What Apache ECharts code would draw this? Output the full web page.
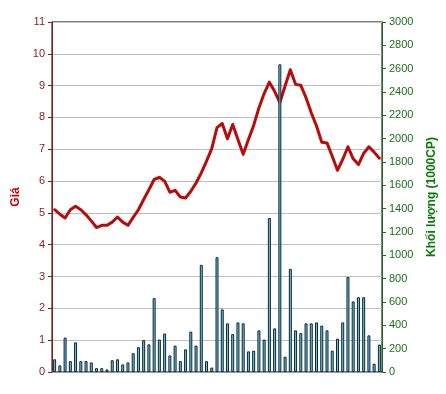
<!DOCTYPE html>
<html>
<head>
<meta charset="utf-8">
<script src="https://cdn.jsdelivr.net/npm/echarts@6/dist/echarts.min.js"></script>
<style>
html,body{margin:0;padding:0;background:#fff;}
#chart{width:446px;height:394px;}
</style>
</head>
<body>
<div id="chart"></div>
<script>
// Session index (63 trading sessions)
var categories = ["1","2","3","4","5","6","7","8","9","10","11","12","13","14","15","16","17","18","19","20","21","22","23","24","25","26","27","28","29","30","31","32","33","34","35","36","37","38","39","40","41","42","43","44","45","46","47","48","49","50","51","52","53","54","55","56","57","58","59","60","61","62","63"];

// Giá (price)
var price = [5.10,4.96,4.84,5.10,5.21,5.10,4.94,4.75,4.54,4.61,4.61,4.71,4.87,4.71,4.61,4.86,5.10,5.42,5.73,6.05,6.12,6.00,5.65,5.71,5.50,5.47,5.68,5.94,6.26,6.63,7.02,7.68,7.81,7.33,7.78,7.31,6.84,7.31,7.75,8.30,8.75,9.11,8.82,8.47,8.99,9.50,9.04,9.01,8.62,8.15,7.73,7.22,7.20,6.78,6.34,6.68,7.08,6.70,6.52,6.87,7.08,6.91,6.72];

// Khối lượng (1000CP)
var volume = [109,57,295,93,254,93,93,82,33,33,22,101,109,65,82,161,213,273,237,633,278,330,142,226,93,194,346,226,919,93,38,984,537,417,325,425,417,177,183,357,278,1320,374,2637,131,884,357,333,417,417,425,398,357,183,286,425,815,605,641,641,314,71,235];

var priceTicks = {min:0, max:11, interval:1};
var volumeTicks = {min:0, max:3000, interval:200};

var chart = echarts.init(document.getElementById('chart'), null, {renderer:'canvas'});
var font = 'Arial, "Liberation Sans", sans-serif';
chart.setOption({
  animation:false,
  backgroundColor:'#ffffff',
  grid:{left:52, right:64, top:22, bottom:22, show:true, borderColor:'#000000', borderWidth:1, backgroundColor:'transparent'},
  xAxis:{
    type:'category', data:categories, boundaryGap:true,
    axisLine:{show:true, lineStyle:{color:'#999999'}},
    axisTick:{show:false}, axisLabel:{show:false}, splitLine:{show:false}
  },
  yAxis:[{
    type:'value', position:'left', min:priceTicks.min, max:priceTicks.max, interval:priceTicks.interval,
    name:'Giá', nameLocation:'middle', nameGap:30, nameRotate:90,
    nameTextStyle:{color:'#cc0000', fontWeight:'bold', fontSize:12, fontFamily:font},
    axisLine:{show:true, lineStyle:{color:'#8b1a1a', width:1}},
    axisTick:{show:true, inside:false, length:4, lineStyle:{color:'#8b1a1a'}},
    axisLabel:{color:'#8b1a1a', fontSize:11, fontFamily:font, margin:7, formatter:function(v){return String(v);}},
    splitLine:{show:true, lineStyle:{color:'#c0c0c0', width:1}}
  },{
    type:'value', position:'right', min:volumeTicks.min, max:volumeTicks.max, interval:volumeTicks.interval,
    name:'Khối lượng (1000CP)', nameLocation:'middle', nameGap:44, nameRotate:90,
    nameTextStyle:{color:'#0a7a0a', fontWeight:'bold', fontSize:12, fontFamily:font},
    axisLine:{show:true, lineStyle:{color:'#1a6e1a', width:1}},
    axisTick:{show:true, inside:false, length:4, lineStyle:{color:'#1a6e1a'}},
    axisLabel:{color:'#1a6e1a', fontSize:11, fontFamily:font, margin:7, formatter:function(v){return String(v);}},
    splitLine:{show:false}
  }],
  series:[{
    name:'Giá', type:'line', yAxisIndex:0, data:price, showSymbol:false, symbol:'none',
    smooth:false, z:2,
    lineStyle:{color:'#b80c0c', width:3, join:'round', cap:'round'}
  },{
    name:'Khối lượng', type:'bar', yAxisIndex:1, data:volume, barWidth:3, z:3,
    itemStyle:{color:'#6fc0dc', borderColor:'#0d2836', borderWidth:1}
  }]
});
</script>
</body>
</html>
